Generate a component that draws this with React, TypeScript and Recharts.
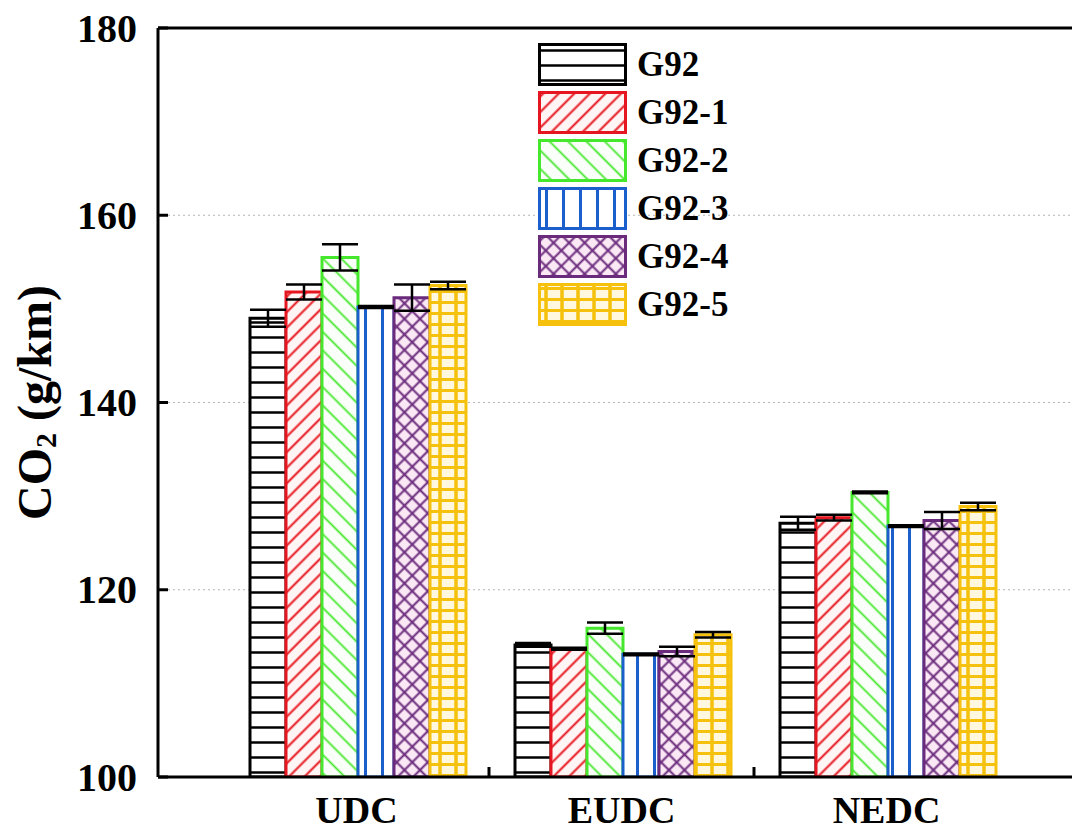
import React from 'react';
import { BarChart, Bar, XAxis, YAxis, CartesianGrid, ErrorBar, Legend } from 'recharts';

const categories = ['UDC', 'EUDC', 'NEDC'];

const g92 = [149.0, 114.1, 127.1];
const g92Err = [0.9, 0.2, 0.7];
const g92_1 = [151.8, 113.7, 127.7];
const g92_1Err = [0.8, 0.1, 0.3];
const g92_2 = [155.5, 115.9, 130.4];
const g92_2Err = [1.4, 0.6, 0.1];
const g92_3 = [150.2, 113.1, 126.8];
const g92_3Err = [0.1, 0.1, 0.1];
const g92_4 = [151.2, 113.4, 127.4];
const g92_4Err = [1.4, 0.5, 0.9];
const g92_5 = [152.5, 115.2, 128.9];
const g92_5Err = [0.4, 0.3, 0.4];

const yTicks = [100, 120, 140, 160, 180];

const seriesNames = ['G92', 'G92-1', 'G92-2', 'G92-3', 'G92-4', 'G92-5'];
const seriesValues = [g92, g92_1, g92_2, g92_3, g92_4, g92_5];
const seriesErrors = [g92Err, g92_1Err, g92_2Err, g92_3Err, g92_4Err, g92_5Err];
const seriesColors = ['#000000', '#e5161f', '#45e82c', '#1b5fcc', '#6a2b7c', '#f6c10c'];

const data = categories.map((name, i) => {
  const row: Record<string, string | number> = { name };
  seriesValues.forEach((vals, s) => {
    row[`v${s}`] = vals[i];
    row[`e${s}`] = seriesErrors[s][i];
  });
  return row;
});

const FONT = '"Liberation Serif", "Times New Roman", serif';
const W = 1108;
const H = 830;
const MARGIN = { top: 27, right: 23, bottom: 8, left: 18 };
const Y_AXIS_W = 140;
const X_PAD = 66;
const PLOT_W = W - MARGIN.left - MARGIN.right - Y_AXIS_W;
const BAND = (PLOT_W - 2 * X_PAD) / categories.length;

function Patterns() {
  return (
    <defs>
      <pattern id="pat0" width="10" height="15" patternUnits="userSpaceOnUse">
        <rect width="10" height="15" fill="#fff" />
        <line x1="0" y1="7.5" x2="10" y2="7.5" stroke="#000" strokeWidth="2.5" />
      </pattern>
      <pattern id="pat1" width="11" height="11" patternUnits="userSpaceOnUse" patternTransform="rotate(45)">
        <rect width="11" height="11" fill="#fff5f5" />
        <line x1="5.5" y1="0" x2="5.5" y2="11" stroke="#e5161f" strokeWidth="2" />
      </pattern>
      <pattern id="pat2" width="13" height="13" patternUnits="userSpaceOnUse" patternTransform="rotate(-45)">
        <rect width="13" height="13" fill="#fbfffa" />
        <line x1="6.5" y1="0" x2="6.5" y2="13" stroke="#45e82c" strokeWidth="1.8" />
      </pattern>
      <pattern id="pat3" width="17" height="10" patternUnits="userSpaceOnUse">
        <rect width="17" height="10" fill="#fff" />
        <line x1="8.5" y1="0" x2="8.5" y2="10" stroke="#1b5fcc" strokeWidth="3" />
      </pattern>
      <pattern id="pat4" width="11" height="11" patternUnits="userSpaceOnUse" patternTransform="rotate(45)">
        <rect width="11" height="11" fill="#fbe8f5" />
        <line x1="5.5" y1="0" x2="5.5" y2="11" stroke="#6a2b7c" strokeWidth="2" />
        <line x1="0" y1="5.5" x2="11" y2="5.5" stroke="#6a2b7c" strokeWidth="2" />
      </pattern>
      <pattern id="pat5" width="16" height="11" patternUnits="userSpaceOnUse">
        <rect width="16" height="11" fill="#fff7de" />
        <line x1="8" y1="0" x2="8" y2="11" stroke="#f6c10c" strokeWidth="3.5" />
        <line x1="0" y1="5.5" x2="16" y2="5.5" stroke="#f6c10c" strokeWidth="3" />
      </pattern>
    </defs>
  );
}

function YTick(props: any) {
  const { x, y, payload } = props;
  return (
    <g>
      <line x1={x + 21} y1={y} x2={x + 31} y2={y} stroke="#000" strokeWidth={3} />
      <text x={x} y={y} textAnchor="end" dominantBaseline="central"
        fontFamily={FONT} fontWeight="bold" fontSize={40} fill="#000">
        {payload.value}
      </text>
    </g>
  );
}

function XTick(props: any) {
  const { x, y, payload } = props;
  const idx = categories.indexOf(payload.value);
  return (
    <g>
      {idx < categories.length - 1 && (
        <line x1={x + BAND / 2} y1={y} x2={x + BAND / 2} y2={y - 10} stroke="#000" strokeWidth={3} />
      )}
      <text x={x} y={y + 33} textAnchor="middle" dominantBaseline="central"
        fontFamily={FONT} fontWeight="bold" fontSize={38} fill="#000">
        {payload.value}
      </text>
    </g>
  );
}

function YLabel(props: any) {
  const { viewBox } = props;
  const cx = viewBox.x + 16;
  const cy = viewBox.y + viewBox.height / 2;
  return (
    <text x={cx} y={cy} transform={`rotate(-90, ${cx}, ${cy})`} textAnchor="middle"
      dominantBaseline="central" fontFamily={FONT} fontWeight="bold" fontSize={48} fill="#000">
      CO<tspan fontSize={30} dy={11}>2</tspan><tspan dy={-11}> (g/km)</tspan>
    </text>
  );
}

function LegendBox() {
  return (
    <div style={{ display: 'flex', flexDirection: 'column', gap: 5 }}>
      {seriesNames.map((name, i) => (
        <div key={name} style={{ display: 'flex', alignItems: 'center', height: 43 }}>
          <svg width={89} height={43}>
            <rect x={1.5} y={1.5} width={86} height={40} fill={`url(#pat${i})`}
              stroke={seriesColors[i]} strokeWidth={3} />
          </svg>
          <span style={{ marginLeft: 10, fontFamily: FONT, fontWeight: 'bold', fontSize: 35, color: '#000', lineHeight: 1 }}>
            {name}
          </span>
        </div>
      ))}
    </div>
  );
}

const axisLineStyle = { stroke: '#000', strokeWidth: 3 };

export default function App() {
  return (
    <div style={{ width: 1080, height: 830, overflow: 'hidden', position: 'relative', margin: '-8px 0 0 -8px' }}>
      <BarChart width={W} height={H} data={data} margin={MARGIN} barCategoryGap={26} barGap={0}>
        <Patterns />
        <CartesianGrid vertical={false} stroke="#b5b5b5" strokeDasharray="2 3" />
        {seriesNames.map((name, s) => (
          <Bar key={name} dataKey={`v${s}`} name={name} fill={`url(#pat${s})`}
            stroke={seriesColors[s]} strokeWidth={3} isAnimationActive={false}>
            <ErrorBar dataKey={`e${s}`} width={18} strokeWidth={2.5} stroke="#000" />
          </Bar>
        ))}
        <XAxis dataKey="name" height={45} padding={{ left: X_PAD, right: X_PAD }}
          stroke="#000" strokeWidth={3} axisLine={axisLineStyle} tickLine={false} tickSize={0} tickMargin={0}
          tick={<XTick />} interval={0} />
        <XAxis xAxisId="top" dataKey="name" orientation="top" height={1} tick={false} tickLine={false}
          stroke="#000" strokeWidth={3} axisLine={axisLineStyle} padding={{ left: X_PAD, right: X_PAD }} />
        <YAxis width={Y_AXIS_W} domain={[100, 180]} ticks={yTicks} allowDataOverflow
          stroke="#000" strokeWidth={3} axisLine={axisLineStyle} tickLine={false} tickSize={0} tickMargin={21}
          tick={<YTick />} label={<YLabel />} />
        <Legend layout="vertical" align="center" verticalAlign="middle"
          wrapperStyle={{ position: 'absolute', left: 538, top: 43, width: 'auto' }}
          content={() => <LegendBox />} />
      </BarChart>
    </div>
  );
}
